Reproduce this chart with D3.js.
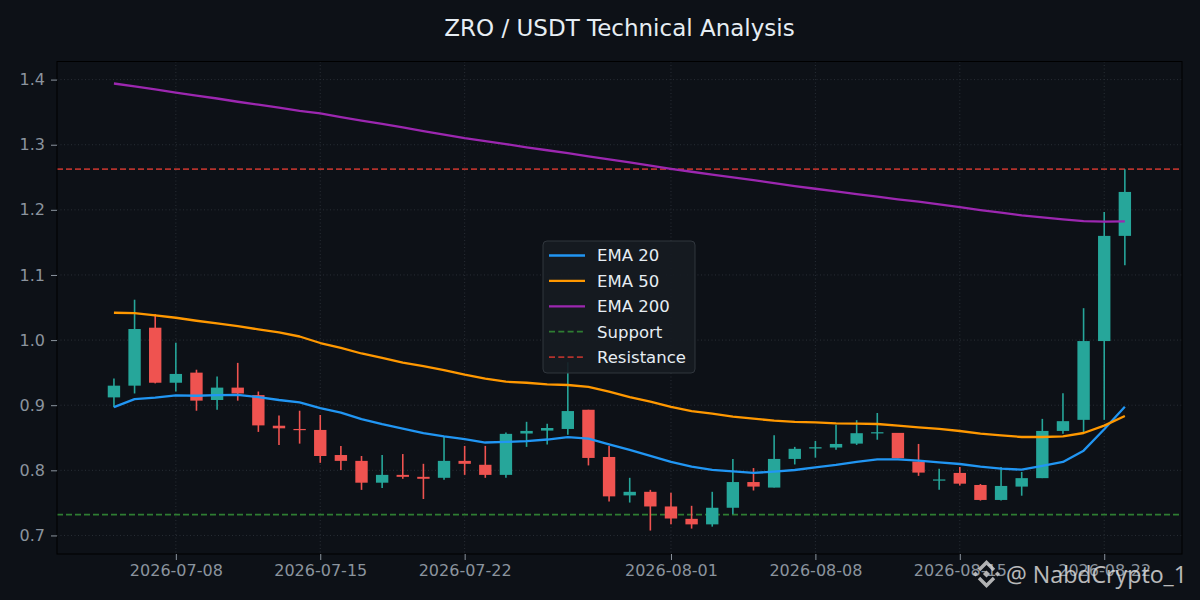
<!DOCTYPE html>
<html>
<head>
<meta charset="utf-8">
<script src="https://cdn.jsdelivr.net/npm/d3@7"></script>
<style>
html, body { margin: 0; padding: 0; background: #0d1117; }
svg { display: block; font-family: "DejaVu Sans", sans-serif; }
</style>
</head>
<body>
<svg id="chart" width="1200" height="600"></svg>
<script>
// daily candles
var dates = ["2026-07-05","2026-07-06","2026-07-07","2026-07-08","2026-07-09","2026-07-10","2026-07-11","2026-07-12","2026-07-13","2026-07-14",
  "2026-07-15","2026-07-16","2026-07-17","2026-07-18","2026-07-19","2026-07-20","2026-07-21","2026-07-22","2026-07-23","2026-07-24",
  "2026-07-25","2026-07-26","2026-07-27","2026-07-28","2026-07-29","2026-07-30","2026-07-31","2026-08-01","2026-08-02","2026-08-03",
  "2026-08-04","2026-08-05","2026-08-06","2026-08-07","2026-08-08","2026-08-09","2026-08-10","2026-08-11","2026-08-12","2026-08-13",
  "2026-08-14","2026-08-15","2026-08-16","2026-08-17","2026-08-18","2026-08-19","2026-08-20","2026-08-21","2026-08-22","2026-08-23"]
var opens = [0.912,0.930,1.019,0.9345,0.950,0.908,0.927,0.9155,0.8685,0.8635,
  0.862,0.8235,0.8145,0.781,0.793,0.790,0.7885,0.8145,0.8085,0.793,
  0.8565,0.861,0.8635,0.893,0.8205,0.7615,0.767,0.7445,0.7255,0.717,
  0.7425,0.782,0.7735,0.8175,0.8335,0.835,0.841,0.858,0.8575,0.8135,
  0.7855,0.796,0.7775,0.7545,0.775,0.788,0.8605,0.8775,0.9985,1.160]
var highs = [0.941,1.062,1.040,0.996,0.9545,0.944,0.965,0.921,0.884,0.8915,
  0.885,0.8375,0.822,0.8235,0.825,0.810,0.852,0.8375,0.8375,0.858,
  0.8745,0.8715,0.966,0.893,0.8375,0.7885,0.770,0.7655,0.7455,0.767,
  0.8175,0.8035,0.854,0.836,0.845,0.870,0.877,0.888,0.8575,0.8405,
  0.8025,0.805,0.779,0.805,0.7975,0.879,0.9185,1.049,1.1965,1.2625]
var lows = [0.897,0.918,0.9335,0.921,0.8915,0.893,0.907,0.859,0.839,0.841,
  0.8115,0.8005,0.770,0.773,0.787,0.756,0.7855,0.793,0.7885,0.7885,
  0.836,0.8395,0.8545,0.8075,0.752,0.7505,0.7075,0.717,0.7105,0.7135,
  0.7325,0.769,0.7735,0.809,0.8195,0.8315,0.839,0.847,0.8185,0.7915,
  0.770,0.7765,0.7535,0.7535,0.761,0.788,0.856,0.858,0.8775,1.115]
var closes = [0.930,1.017,0.9345,0.948,0.907,0.927,0.918,0.869,0.8645,0.8625,
  0.822,0.8145,0.781,0.793,0.790,0.787,0.8145,0.810,0.793,0.856,
  0.8605,0.865,0.891,0.819,0.760,0.767,0.7445,0.726,0.717,0.7425,
  0.782,0.775,0.8175,0.833,0.8355,0.8405,0.857,0.8585,0.8185,0.7965,
  0.786,0.7795,0.7545,0.776,0.788,0.8605,0.8755,0.9985,1.160,1.2275]

var ema20 = [0.897,0.9094,0.9115,0.915,0.9145,0.9156,0.916,0.9125,0.908,0.9043,
  0.8954,0.8887,0.8785,0.8708,0.8642,0.857,0.852,0.8478,0.8427,0.8437,
  0.8447,0.8473,0.8509,0.8488,0.840,0.8314,0.8222,0.813,0.8058,0.8007,
  0.7985,0.796,0.798,0.8005,0.8046,0.8082,0.8128,0.8169,0.8169,0.8148,
  0.8123,0.8097,0.8056,0.8026,0.801,0.8067,0.8128,0.8302,0.863,0.8977]
var ema50 = [1.042,1.0415,1.038,1.0343,1.0297,1.0256,1.0215,1.0164,1.0118,1.0055,
  0.9955,0.988,0.9794,0.9725,0.9655,0.960,0.954,0.9469,0.9407,0.9361,
  0.9345,0.932,0.931,0.928,0.921,0.9125,0.9055,0.8976,0.891,0.887,
  0.8824,0.8793,0.8763,0.8745,0.8737,0.8722,0.8716,0.8711,0.8686,0.866,
  0.8635,0.8604,0.8563,0.8537,0.8512,0.8512,0.8522,0.8573,0.8686,0.8834]
var ema200 = [1.394,1.3895,1.385,1.380,1.3755,1.371,1.366,1.3615,1.357,1.352,
  1.348,1.3425,1.337,1.332,1.3265,1.321,1.3155,1.310,1.3055,1.301,
  1.296,1.2915,1.287,1.282,1.2775,1.273,1.268,1.263,1.2585,1.254,
  1.250,1.2455,1.241,1.2365,1.2324,1.2283,1.2242,1.2202,1.216,1.2125,
  1.2084,1.2043,1.1997,1.1956,1.1915,1.1884,1.1853,1.1828,1.1818,1.1823]

var support = 0.732
var resistance = 1.2626

var yTicks = [0.7, 0.8, 0.9, 1.0, 1.1, 1.2, 1.3, 1.4]
var xTicks = ["2026-07-08","2026-07-15","2026-07-22","2026-08-01","2026-08-08","2026-08-15","2026-08-22"]

var legendItems = [
  { name: "EMA 20", color: "#2196f3", dash: null },
  { name: "EMA 50", color: "#ff9800", dash: null },
  { name: "EMA 200", color: "#9c27b0", dash: null },
  { name: "Support", color: "#2e7d32", dash: "6,3.3" },
  { name: "Resistance", color: "#b3322c", dash: "6,3.3" }
]

var parse = d3.utcParse("%Y-%m-%d")
var DAY = 864e5
var margin = { top: 61.5, right: 18, bottom: 46, left: 57 }
var width = 1200, height = 600

var svg = d3.select("#chart")
svg.append("rect").attr("width", width).attr("height", height).attr("fill", "#0d1117")

var t0 = parse(dates[0]).getTime(), t1 = parse(dates[dates.length - 1]).getTime()
var x = d3.scaleUtc()
  .domain([new Date(t0 - 2.76 * DAY), new Date(t1 + 2.77 * DAY)])
  .range([margin.left, width - margin.right])
var y = d3.scaleLinear()
  .domain([0.6715, 1.4278])
  .range([height - margin.bottom, margin.top])

var candles = dates.map(function (d, i) {
  return { date: parse(d), o: opens[i], h: highs[i], l: lows[i], c: closes[i] }
})

svg.append("defs").append("clipPath").attr("id", "plotclip")
  .append("rect")
  .attr("x", margin.left).attr("y", margin.top)
  .attr("width", width - margin.left - margin.right)
  .attr("height", height - margin.top - margin.bottom)

// grid
var grid = svg.append("g").attr("stroke", "#30363d").attr("stroke-width", 0.8).attr("stroke-dasharray", "1,2.5")
grid.selectAll(".gy").data(yTicks).enter().append("line")
  .attr("x1", margin.left).attr("x2", width - margin.right)
  .attr("y1", function (d) { return y(d) }).attr("y2", function (d) { return y(d) })
grid.selectAll(".gx").data(xTicks).enter().append("line")
  .attr("y1", margin.top).attr("y2", height - margin.bottom)
  .attr("x1", function (d) { return x(parse(d)) }).attr("x2", function (d) { return x(parse(d)) })

var plot = svg.append("g").attr("clip-path", "url(#plotclip)")

// support / resistance
plot.append("line")
  .attr("x1", margin.left).attr("x2", width - margin.right)
  .attr("y1", y(support)).attr("y2", y(support))
  .attr("stroke", "#2e7d32").attr("stroke-width", 1.8).attr("stroke-dasharray", "6,3")
plot.append("line")
  .attr("x1", margin.left).attr("x2", width - margin.right)
  .attr("y1", y(resistance)).attr("y2", y(resistance))
  .attr("stroke", "#b3322c").attr("stroke-width", 1.8).attr("stroke-dasharray", "6,3")

// candles
var bw = x(new Date(t0 + 0.6 * DAY)) - x(new Date(t0))
var cg = plot.selectAll(".candle").data(candles).enter().append("g")
cg.append("line")
  .attr("x1", function (d) { return x(d.date) }).attr("x2", function (d) { return x(d.date) })
  .attr("y1", function (d) { return y(d.h) }).attr("y2", function (d) { return y(d.l) })
  .attr("stroke", function (d) { return d.c >= d.o ? "#26a69a" : "#ef5350" })
  .attr("stroke-width", 1.6)
cg.append("rect")
  .attr("x", function (d) { return x(d.date) - bw / 2 })
  .attr("width", bw)
  .attr("y", function (d) { return y(Math.max(d.o, d.c)) })
  .attr("height", function (d) { return Math.max(1.2, Math.abs(y(d.o) - y(d.c))) })
  .attr("fill", function (d) { return d.c >= d.o ? "#26a69a" : "#ef5350" })

// EMA lines
function drawLine(vals, color) {
  var line = d3.line()
    .x(function (d, i) { return x(parse(dates[i])) })
    .y(function (d) { return y(d) })
  plot.append("path").datum(vals)
    .attr("d", line)
    .attr("fill", "none")
    .attr("stroke", color)
    .attr("stroke-width", 2.3)
    .attr("stroke-linejoin", "round")
}
drawLine(ema20, "#2196f3")
drawLine(ema50, "#ff9800")
drawLine(ema200, "#9c27b0")

// frame
svg.append("rect")
  .attr("x", margin.left).attr("y", margin.top)
  .attr("width", width - margin.left - margin.right)
  .attr("height", height - margin.top - margin.bottom)
  .attr("fill", "none").attr("stroke", "#000").attr("stroke-width", 1)

// axes
var yAxis = svg.append("g")
  .attr("transform", "translate(" + margin.left + ",0)")
  .call(d3.axisLeft(y).tickValues(yTicks).tickFormat(d3.format(".1f")).tickSize(6).tickPadding(6))
var xAxis = svg.append("g")
  .attr("transform", "translate(0," + (height - margin.bottom) + ")")
  .call(d3.axisBottom(x).tickValues(xTicks.map(parse)).tickFormat(d3.utcFormat("%Y-%m-%d")).tickSize(6).tickPadding(5))
;[yAxis, xAxis].forEach(function (a) {
  a.select(".domain").remove()
  a.selectAll(".tick line").attr("stroke", "#8b949e").attr("stroke-width", 1)
  a.selectAll(".tick text").attr("fill", "#8b949e").style("font-size", "16px").style("font-family", "DejaVu Sans")
})

// title
svg.append("text")
  .attr("x", (margin.left + width - margin.right) / 2).attr("y", 36)
  .attr("text-anchor", "middle")
  .attr("fill", "#e6edf3")
  .style("font-size", "23px")
  .text("ZRO / USDT Technical Analysis")

// legend
var lg = svg.append("g").attr("transform", "translate(543,241)")
lg.append("rect")
  .attr("width", 152).attr("height", 132).attr("rx", 4)
  .attr("fill", "#161b22").attr("fill-opacity", 0.92)
  .attr("stroke", "#30363d").attr("stroke-width", 1)
var li = lg.selectAll(".li").data(legendItems).enter().append("g")
  .attr("transform", function (d, i) { return "translate(0," + (14.5 + i * 25.4) + ")" })
li.append("line")
  .attr("x1", 6).attr("x2", 42)
  .attr("stroke", function (d) { return d.color })
  .attr("stroke-width", function (d) { return d.dash ? 1.8 : 2.3 })
  .attr("stroke-dasharray", function (d) { return d.dash })
li.append("text")
  .attr("x", 54).attr("dy", "0.36em")
  .attr("fill", "#e6edf3")
  .style("font-size", "16.5px")
  .text(function (d) { return d.name })

// watermark
var wm = svg.append("g").attr("opacity", 0.82)
var cx = 986.5, cy = 574
var logo = wm.append("g").attr("fill", "none").attr("stroke", "#d6d6d6").attr("stroke-width", 3.4).attr("stroke-linejoin", "miter")
logo.append("path").attr("d", "M" + (cx - 7.5) + "," + (cy - 4) + " L" + cx + "," + (cy - 11.5) + " L" + (cx + 7.5) + "," + (cy - 4))
logo.append("path").attr("d", "M" + (cx - 7.5) + "," + (cy + 4) + " L" + cx + "," + (cy + 11.5) + " L" + (cx + 7.5) + "," + (cy + 4))
var dots = [[0, 0, 3.6], [-11, 0, 2.6], [11, 0, 2.6]]
wm.selectAll(".dot").data(dots).enter().append("path")
  .attr("d", function (d) {
    var px = cx + d[0], py = cy + d[1], r = d[2]
    return "M" + px + "," + (py - r) + "L" + (px + r) + "," + py + "L" + px + "," + (py + r) + "L" + (px - r) + "," + py + "Z"
  })
  .attr("fill", "#d6d6d6")
wm.append("text")
  .attr("x", 1006).attr("y", 583)
  .attr("fill", "#e0e0e0")
  .attr("textLength", 181).attr("lengthAdjust", "spacingAndGlyphs")
  .style("font-family", "'Open Sans', sans-serif")
  .style("font-size", "23px")
  .text("@ NabdCrypto_1")
</script>
</body>
</html>
